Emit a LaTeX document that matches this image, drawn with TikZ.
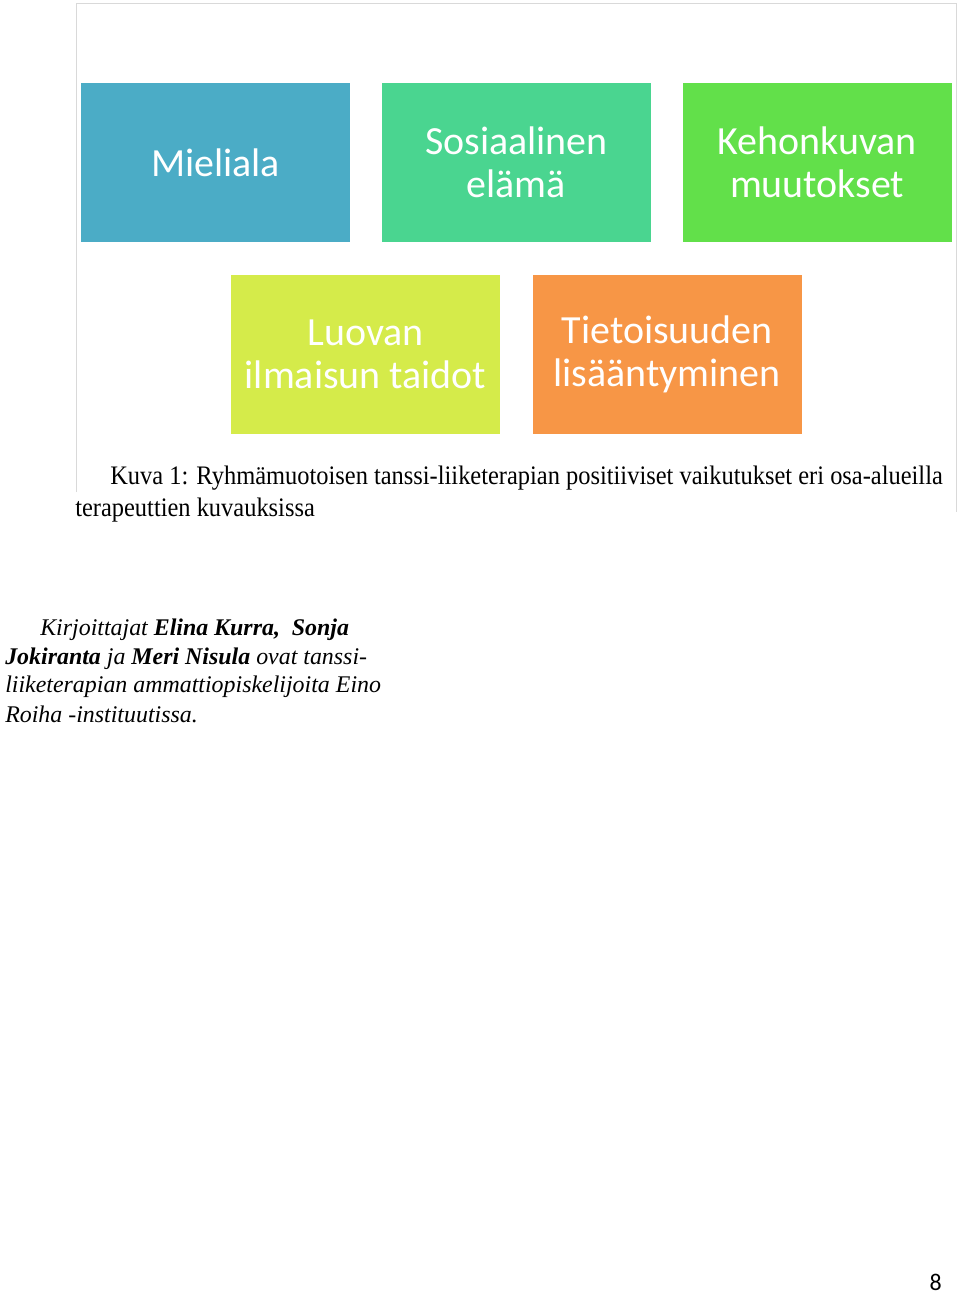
\documentclass[tikz,border=0pt]{standalone}
\usepackage{fontspec}
\setmainfont{Liberation Serif}
\newfontfamily\boxfont{Carlito}
\newfontfamily\capfont[FakeStretch=0.915]{Liberation Serif}
\newfontfamily\pagefont{Carlito}

\definecolor{aquabox}{HTML}{4BACC6}
\definecolor{mintbox}{HTML}{4AD590}
\definecolor{greenbox}{HTML}{62E04A}
\definecolor{limebox}{HTML}{D5EB4A}
\definecolor{orangebox}{HTML}{F79646}
\definecolor{framegray}{HTML}{D9D9D9}

\begin{document}
\begin{tikzpicture}[
  frame/.style={draw=framegray,line width=0.6pt},
  effect/.style={minimum width=6.725cm,minimum height=3.975cm,inner sep=0pt,
    align=center,text=white,font=\boxfont\fontsize{28.4}{31}\selectfont},
  caption/.style={anchor=base west,inner sep=0pt,font=\capfont\fontsize{19}{22}\selectfont},
  authors/.style={anchor=base west,inner sep=0pt,font=\itshape\fontsize{17}{20.6}\selectfont},
]
\useasboundingbox (0,0) rectangle (24,-32.35);
% frame round the figure
\draw[frame] (1.9,-12.3) -- (1.9,-0.075) -- (23.9,-0.075) -- (23.9,-12.8);
% the five effect boxes
\node[effect,fill=aquabox] (mieliala) at (5.39,-4.06) {Mieliala};
\node[effect,fill=mintbox] (sosiaalinen) at (12.91,-4.06) {Sosiaalinen\\elämä};
\node[effect,fill=greenbox] (kehonkuva) at (20.43,-4.06) {Kehonkuvan\\muutokset};
\node[effect,fill=limebox] (luovuus) at (9.14,-8.86) {Luovan\\ilmaisun taidot};
\node[effect,fill=orangebox] (tietoisuus) at (16.68,-8.86) {Tietoisuuden\\lisääntyminen};
% caption
\node[caption] (kuva) at (2.75,-12.1) {Kuva 1: Ryhmämuotoisen tanssi-liiketerapian positiiviset vaikutukset eri osa-alueilla};
\node[caption] (kuva2) at (1.875,-12.9) {terapeuttien kuvauksissa};
% authors
\node[authors] (rivi1) at (1.0,-15.88) {Kirjoittajat \textbf{Elina Kurra,}\ \ \textbf{Sonja}};
\node[authors] (rivi2) at (0.125,-16.6) {\textbf{Jokiranta} ja \textbf{Meri Nisula} ovat tanssi-};
\node[authors] (rivi3) at (0.125,-17.3) {liiketerapian ammattiopiskelijoita Eino};
\node[authors] (rivi4) at (0.125,-18.05) {Roiha -instituutissa.};
% page number
\node[anchor=base east,inner sep=0pt,font=\pagefont\fontsize{17}{20}\selectfont] (sivu) at (23.55,-32.25) {8};
\end{tikzpicture}
\end{document}
